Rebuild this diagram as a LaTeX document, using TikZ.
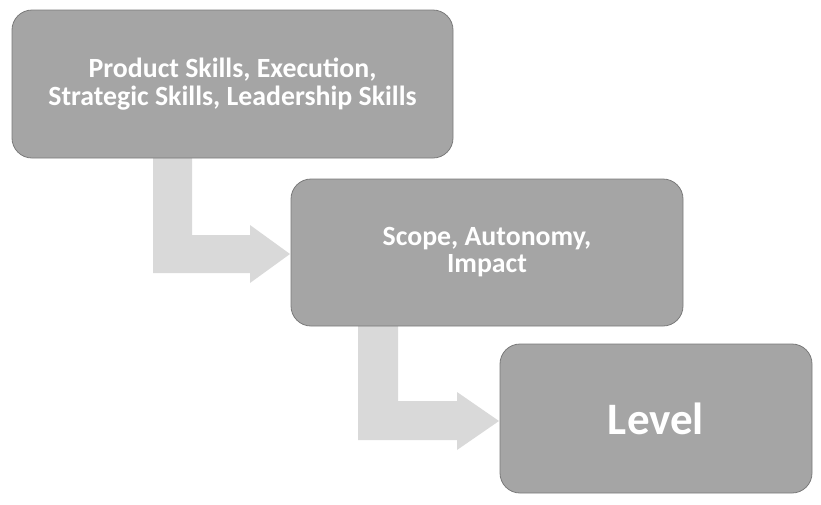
\documentclass[tikz,border=0pt]{standalone}
\usepackage{fontspec}
\setmainfont{Carlito}
\definecolor{boxfill}{HTML}{A5A5A5}
\definecolor{boxline}{HTML}{7A7A7A}
\definecolor{arrowfill}{HTML}{D9D9D9}
\begin{document}
\begin{tikzpicture}[x=1pt,y=-1pt,
  stage/.style={draw=boxline, line width=0.8pt, fill=boxfill, rounded corners=20pt, text=white, font=\bfseries, align=center, inner sep=0pt},
  bentarrow/.style={fill=arrowfill, draw=none}]
\useasboundingbox (0,0) rectangle (821,504);
% arrows
\fill[bentarrow] (153,158) -- (192,158) -- (192,235) -- (250,235) -- (250,225) -- (290,254) -- (250,283) -- (250,273) -- (153,273) -- cycle;
\fill[bentarrow] (358,325) -- (398,325) -- (398,401) -- (457,401) -- (457,392) -- (499,421) -- (457,450) -- (457,440) -- (358,440) -- cycle;
% boxes
\node[stage, minimum width=441pt, minimum height=148pt, font=\bfseries\fontsize{27.8}{28.5}\selectfont] (b1) at (232.5,84) {Product Skills, Execution,\\Strategic Skills, Leadership Skills};
\node[stage, minimum width=392pt, minimum height=147pt, font=\bfseries\fontsize{27.8}{27}\selectfont] (b2) at (487,252.5) {Scope, Autonomy,\\Impact};
\node[stage, minimum width=312pt, minimum height=149pt, font=\bfseries\fontsize{45}{50}\selectfont] (b3) at (656,418.5) {Level};
\end{tikzpicture}
\end{document}
